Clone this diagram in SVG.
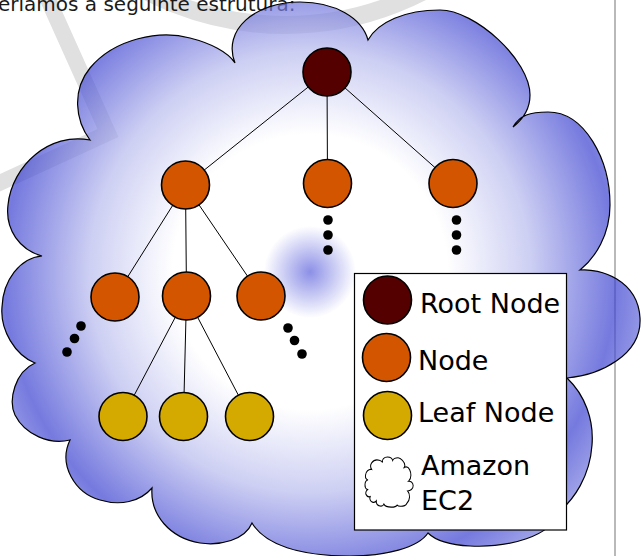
<svg xmlns="http://www.w3.org/2000/svg" xmlns:xlink="http://www.w3.org/1999/xlink" width="642" height="556" viewBox="0 0 642 556">
<style>
.edge{stroke:#000;stroke-width:1;fill:none}
.nd{stroke:#000;stroke-width:1.6}
.root{fill:#550000}
.node{fill:#d45500}
.leaf{fill:#d4aa00}
.dot{fill:#000}
.lbl{font-family:"DejaVu Sans","Liberation Sans",sans-serif;font-size:27px;fill:#000}
.wm{fill:none;stroke:#e0e0e0}
</style>
<defs>
<radialGradient id="cg" gradientUnits="userSpaceOnUse" cx="310" cy="272" r="306" spreadMethod="reflect">
<stop offset="0" stop-color="#5b60db"/>
<stop offset="0.15" stop-color="#ffffff"/>
<stop offset="0.45" stop-color="#ffffff"/>
<stop offset="0.72" stop-color="#b8bbee"/>
<stop offset="1" stop-color="#3b41d0"/>
</radialGradient>
<path id="cloudShape" d="M235,63 C222,30 255,2 300,2 C335,2 362,18 368,40 C378,22 405,10 440,10 C475,10 530,60 530,95 C530,110 522,120 513,127 C520,115 530,112 548,112 C585,112 610,160 610,205 C610,235 595,258 580,270 C600,268 638,280 640,318 C642,355 600,375 567,378 C585,395 594,420 592,445 C590,475 575,500 555,515 C552,535 510,548 470,546 C450,545 435,540 428,533 C418,548 385,556 350,556 C300,556 265,545 252,523 C245,540 220,546 200,543 C170,538 150,515 152,488 C140,502 120,506 100,500 C75,493 58,465 70,440 C50,445 25,435 15,415 C8,400 15,372 35,363 C15,355 0,330 2,307 C3,280 20,258 42,256 C20,250 5,230 8,205 C12,165 50,132 90,140 C75,120 72,90 90,68 C115,38 160,30 190,38 C210,43 228,52 235,63 Z"/>
</defs>
<g id="watermark">
<polyline class="wm" stroke-width="16" points="46,-5 108,133 -5,185"/>
<circle class="wm" stroke-width="18" cx="285" cy="-275" r="300"/>
</g>
<line x1="615" y1="0" x2="615" y2="556" stroke="#8a8a8a" stroke-width="1.2"/>
<text x="-2" y="10.5" font-family="DejaVu Sans, Liberation Sans, sans-serif" font-size="20" fill="#1a1a1a">eríamos a seguinte estrutura:</text>
<g id="cloud">
<use xlink:href="#cloudShape" href="#cloudShape" fill="url(#cg)" fill-opacity="0.7" stroke="#000" stroke-width="1.2"/>
</g>
<g id="connectors">
<line class="edge" x1="327" y1="72" x2="185.5" y2="185"/>
<line class="edge" x1="327" y1="72" x2="327.5" y2="183.5"/>
<line class="edge" x1="327" y1="72" x2="453" y2="183.5"/>
<line class="edge" x1="185.5" y1="185" x2="115" y2="297"/>
<line class="edge" x1="185.5" y1="185" x2="186.5" y2="296"/>
<line class="edge" x1="185.5" y1="185" x2="261" y2="296"/>
<line class="edge" x1="186.5" y1="296" x2="123" y2="416.5"/>
<line class="edge" x1="186.5" y1="296" x2="183.5" y2="416.5"/>
<line class="edge" x1="186.5" y1="296" x2="249.5" y2="416.5"/>
</g>
<g id="root-node"><circle class="nd root" cx="327" cy="72" r="24"/></g>
<g id="node-1"><circle class="nd node" cx="185.5" cy="185" r="24"/></g>
<g id="node-2"><circle class="nd node" cx="327.5" cy="183.5" r="24"/></g>
<g id="node-3"><circle class="nd node" cx="453" cy="183.5" r="24"/></g>
<g id="node-4"><circle class="nd node" cx="115" cy="297" r="24"/></g>
<g id="node-5"><circle class="nd node" cx="186.5" cy="296" r="24"/></g>
<g id="node-6"><circle class="nd node" cx="261" cy="296" r="24"/></g>
<g id="leaf-1"><circle class="nd leaf" cx="123" cy="416.5" r="24"/></g>
<g id="leaf-2"><circle class="nd leaf" cx="183.5" cy="416.5" r="24"/></g>
<g id="leaf-3"><circle class="nd leaf" cx="249.5" cy="416.5" r="24"/></g>
<g id="ellipsis">
<circle class="dot" cx="328" cy="220" r="4.8"/>
<circle class="dot" cx="328" cy="235" r="4.8"/>
<circle class="dot" cx="328" cy="250" r="4.8"/>
<circle class="dot" cx="456.5" cy="220" r="4.8"/>
<circle class="dot" cx="456.5" cy="235" r="4.8"/>
<circle class="dot" cx="456.5" cy="250" r="4.8"/>
<circle class="dot" cx="81" cy="326" r="4.8"/>
<circle class="dot" cx="74.5" cy="338.5" r="4.8"/>
<circle class="dot" cx="67" cy="352" r="4.8"/>
<circle class="dot" cx="288" cy="328" r="4.8"/>
<circle class="dot" cx="294.5" cy="340.5" r="4.8"/>
<circle class="dot" cx="302" cy="354" r="4.8"/>
</g>
<g id="legend">
<rect x="354.5" y="273.5" width="212" height="256.5" fill="#fff" stroke="#000" stroke-width="1.2"/>
<circle class="nd root" cx="387.5" cy="300" r="24"/>
<text class="lbl" x="420" y="312.5">Root Node</text>
<circle class="nd node" cx="386.5" cy="357.5" r="24"/>
<text class="lbl" x="418" y="370">Node</text>
<circle class="nd leaf" cx="387.5" cy="415.5" r="24"/>
<text class="lbl" x="418" y="421.5">Leaf Node</text>
<use xlink:href="#cloudShape" href="#cloudShape" transform="translate(365,457) scale(0.0755,0.0905) translate(-2,-2)" fill="#fff" stroke="#000" stroke-width="13"/>
<text class="lbl" x="421" y="475">Amazon</text>
<text class="lbl" x="421" y="510">EC2</text>
</g>
</svg>
